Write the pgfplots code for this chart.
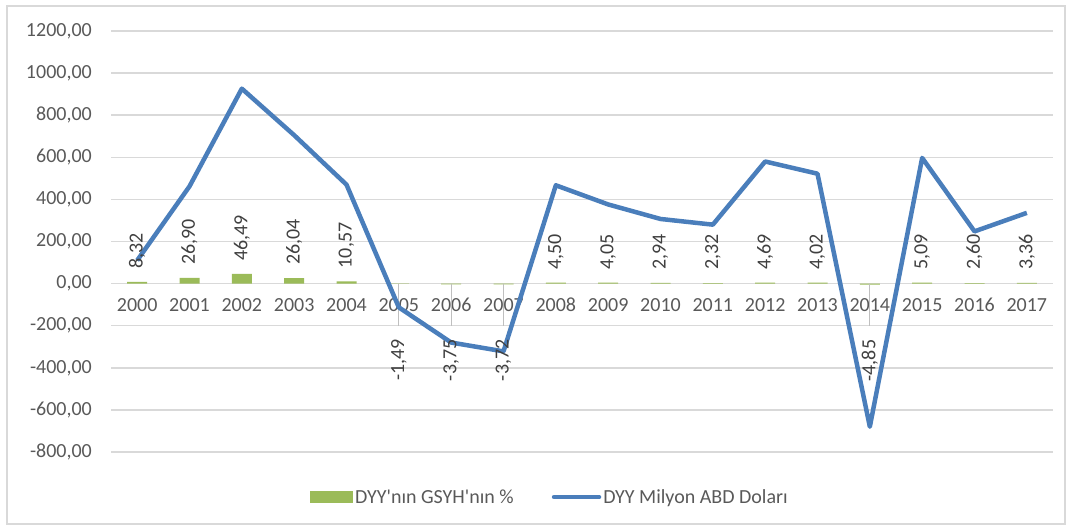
\documentclass[border=0pt]{standalone}
\usepackage{fontspec}
\setmainfont{Carlito}
\usepackage{pgfplots}
\pgfplotsset{compat=1.18}
\definecolor{barg}{HTML}{9BBB59}
\definecolor{lineb}{HTML}{4A7EBB}
\definecolor{gridc}{HTML}{D9D9D9}
\definecolor{leadc}{HTML}{BFBFBF}
\definecolor{txt}{HTML}{595959}
\definecolor{lbl}{HTML}{404040}
\begin{document}
\begin{tikzpicture}[x=1pt,y=1pt]
\useasboundingbox (0,0) rectangle (1072,529);
\draw[gridc, line width=1.2pt] (7,5) rectangle (1065,523);
\begin{axis}[
  at={(111pt,77pt)}, anchor=south west,
  scale only axis, width=942pt, height=421pt,
  xmin=-0.5, xmax=17.5, ymin=-800, ymax=1200,
  ytick={-800,-600,...,1200},
  xtick={0,...,17},
  xticklabels={2000,2001,2002,2003,2004,2005,2006,2007,2008,2009,2010,2011,2012,2013,2014,2015,2016,2017},
  axis x line=middle, axis y line=left,
  axis line style={draw=none},
  hide obscured x ticks=false, hide obscured y ticks=false,
  major tick length=0pt,
  ymajorgrids, grid style={gridc, line width=1.5pt},
  clip=false,
  tick label style={text=txt, font=\fontsize{20}{24}\selectfont},
  yticklabel style={inner sep=0pt, xshift=-19pt,
    /pgf/number format/.cd, fixed, fixed zerofill, precision=2, use comma, 1000 sep={}, assume math mode=true},
  xticklabel style={inner sep=0pt, anchor=north, text height=13pt, text depth=0pt, yshift=-15pt},
  legend style={at={(0.466,-0.107)}, anchor=center, draw=none, fill=none,
    legend columns=2, font=\fontsize{20}{24}\selectfont, text=txt,
    /tikz/every even column/.append style={column sep=36pt},
    nodes={inner sep=2pt}},
]
\addplot[ybar, bar width=20pt, fill=barg, draw=none,
  legend image code/.code={\fill[barg] (0pt,-6pt) rectangle (43pt,6pt);}]
  coordinates {(0,8.32) (1,26.90) (2,46.49) (3,26.04) (4,10.57) (5,-1.49) (6,-3.75) (7,-3.72) (8,4.50)
  (9,4.05) (10,2.94) (11,2.32) (12,4.69) (13,4.02) (14,-4.85) (15,5.09) (16,2.60) (17,3.36)};
\addlegendentry{DYY\textquotesingle nın GSYH\textquotesingle nın \%}
\addplot[ycomb, leadc, line width=1.2pt, forget plot, mark=none]
  coordinates {(5,-200) (6,-200) (7,-200) (14,-200)};
\addplot[lineb, line width=4.5pt, line join=round, mark=none,
  legend image code/.code={\draw[lineb, line width=4.5pt, line cap=round] (0pt,0pt) -- (45pt,0pt);}]
  coordinates {(0,110) (1,462) (2,926) (3,705) (4,470) (5,-113) (6,-280) (7,-322) (8,467)
  (9,376) (10,307) (11,280) (12,580) (13,522) (14,-680) (15,597) (16,248) (17,336)};
\addlegendentry{DYY Milyon ABD Doları}
\addplot[draw=none, mark=none, forget plot, nodes near coords={\rotatebox{90}{\pgfplotspointmeta}},
  point meta=explicit symbolic,
  every node near coord/.append style={font=\fontsize{20}{24}\selectfont, text=lbl, inner sep=0pt, yshift=13pt}]
  coordinates {(0,8.32)[8,32] (1,26.90)[26,90] (2,46.49)[46,49] (3,26.04)[26,04] (4,10.57)[10,57]
  (8,4.50)[4,50] (9,4.05)[4,05] (10,2.94)[2,94] (11,2.32)[2,32] (12,4.69)[4,69] (13,4.02)[4,02]
  (15,5.09)[5,09] (16,2.60)[2,60] (17,3.36)[3,36]};
\addplot[draw=none, mark=none, forget plot, nodes near coords={\rotatebox{90}{\pgfplotspointmeta}},
  point meta=explicit symbolic,
  every node near coord/.append style={font=\fontsize{20}{24}\selectfont, text=lbl, inner sep=0pt, anchor=north, yshift=-55pt}]
  coordinates {(5,-1.49)[-1,49] (6,-3.75)[-3,75] (7,-3.72)[-3,72] (14,-4.85)[-4,85]};
\end{axis}
\end{tikzpicture}
\end{document}
